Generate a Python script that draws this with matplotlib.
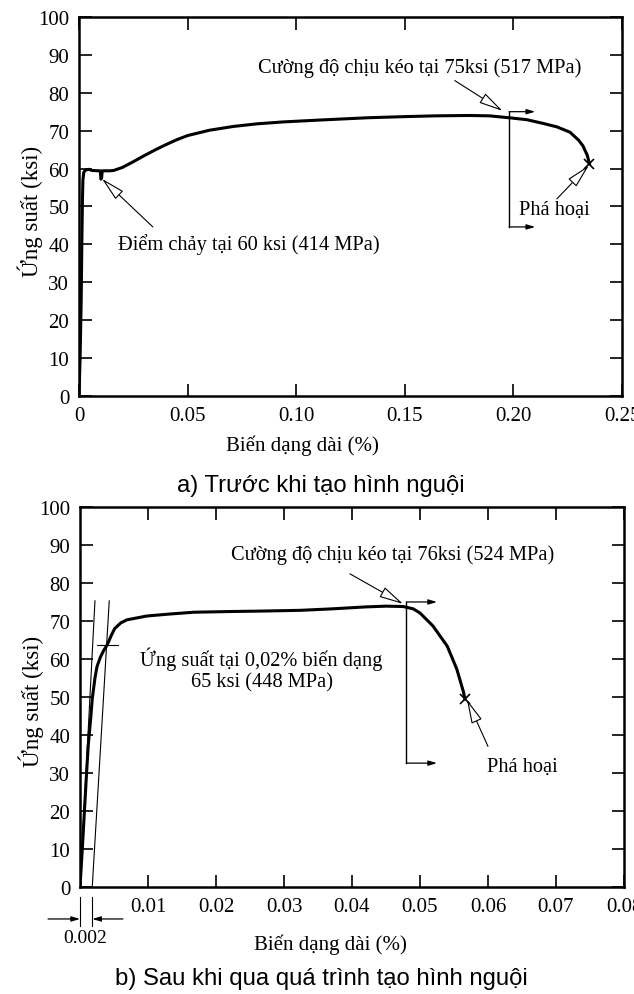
import matplotlib
matplotlib.use("Agg")
import matplotlib.pyplot as plt

plt.rcParams['font.family'] = ['Liberation Serif', 'DejaVu Serif']

# a) before cold forming
strain_a = [0, 0.0005, 0.0010, 0.0013, 0.0016, 0.0018, 0.0022, 0.0030, 0.0045, 0.0060,
            0.0090, 0.0098, 0.0101, 0.0104, 0.0107, 0.0140, 0.0160, 0.0200, 0.0250,
            0.0300, 0.0350, 0.0400, 0.0450, 0.0500, 0.0600, 0.0710, 0.0820, 0.0940,
            0.1110, 0.1330, 0.1500, 0.1640, 0.1800, 0.1890, 0.1980, 0.2060, 0.2130,
            0.2200, 0.2260, 0.2300, 0.2320, 0.2340, 0.2350]
stress_a = [0, 10, 25, 40, 52, 57, 59, 59.6, 59.8, 59.5,
            59.4, 59.4, 57.2, 57.5, 59.4, 59.4, 59.5, 60.3, 61.8,
            63.4, 64.9, 66.3, 67.6, 68.7, 70.1, 71.1, 71.8, 72.3,
            72.8, 73.4, 73.7, 73.9, 74.0, 73.9, 73.4, 72.9, 72.0,
            71.0, 69.6, 67.5, 66.0, 63.5, 61.3]

# b) after cold forming
strain_b = [0, 0.0004, 0.0009, 0.0012, 0.0016, 0.0018, 0.0022, 0.0025, 0.0030, 0.0035,
            0.0040, 0.0046, 0.0051, 0.0060, 0.0069, 0.0098, 0.0130, 0.0167, 0.0225,
            0.0265, 0.0324, 0.0372, 0.0420, 0.0450, 0.0475, 0.0490, 0.0500, 0.0519,
            0.0540, 0.0554, 0.0564, 0.0566]
stress_b = [0, 12, 28, 37, 45, 49.5, 55.0, 58.0, 60.5, 62.3,
            63.7, 66.2, 68.0, 69.5, 70.3, 71.3, 71.8, 72.3, 72.5,
            72.6, 72.8, 73.2, 73.7, 73.9, 73.8, 73.2, 72.1, 68.7,
            63.4, 57.4, 51.3, 49.5]

# 0.2% offset construction lines
elastic_x = [0, 0.0022]
offset_x = [0.0018, 0.0043]
construct_y = [0, 75.3]
offset_stress = 63.7

yticks = list(range(0, 101, 10))
xticks_a = [0, 0.05, 0.10, 0.15, 0.20, 0.25]
xlabels_a = ['0', '0.05', '0.10', '0.15', '0.20', '0.25']
xticks_b = [0.01, 0.02, 0.03, 0.04, 0.05, 0.06, 0.07, 0.08]
xlabels_b = ['0.01', '0.02', '0.03', '0.04', '0.05', '0.06', '0.07', '0.08']

fig = plt.figure(figsize=(6.34, 9.95), dpi=100)
ax1 = fig.add_axes([0.1246, 0.601, 0.8565, 0.381])
ax2 = fig.add_axes([0.1262, 0.1075, 0.8580, 0.382])

hollow = dict(arrowstyle='-|>,head_length=1.5,head_width=0.35', fc='white', ec='black',
              lw=0.8, shrinkA=0, shrinkB=0, mutation_scale=10)
small = dict(arrowstyle='-|>,head_length=0.5,head_width=0.15', fc='black', ec='black',
             lw=0.9, shrinkA=0, shrinkB=0, mutation_scale=10)
FS = 14.7
sans = ['Liberation Sans', 'DejaVu Sans']

def style(ax, xlim, xticks, xlabels):
    ax.set_xlim(*xlim)
    ax.set_ylim(0, 100)
    ax.set_xticks(xticks)
    ax.set_xticklabels(xlabels)
    ax.set_yticks(yticks)
    ax.tick_params(direction='in', length=9, width=1.2, top=True, right=True,
                   labelsize=15, pad=7)
    for s in ax.spines.values():
        s.set_linewidth(1.8)
    ax.text(-0.09, 0.49, 'Ứng suất (ksi)', fontsize=16.5, rotation=90,
            ha='center', va='center', transform=ax.transAxes)
    for lbl in ax.get_xticklabels() + ax.get_yticklabels():
        lbl.set_clip_on(False)

# ---- panel a ----
style(ax1, (0, 0.25), xticks_a, xlabels_a)
ax1.plot(strain_a, stress_a, color='black', lw=2.2)
ax1.plot(strain_a[-1], stress_a[-1], marker='x', color='black', ms=7, mew=1.2)
ax1.plot([0.198, 0.198], [75, 44.6], color='black', lw=1)
ax1.annotate('', xy=(0.210, 75), xytext=(0.198, 75), arrowprops=small)
ax1.annotate('', xy=(0.210, 44.6), xytext=(0.198, 44.6), arrowprops=small)
ax1.text(0.157, 86.8, 'Cường độ chịu kéo tại 75ksi (517 MPa)', fontsize=FS,
         ha='center', va='center')
ax1.annotate('', xy=(0.195, 75.2), xytext=(0.173, 83.2), arrowprops=hollow)
ax1.annotate('', xy=(0.0106, 57.3), xytext=(0.034, 44.6), arrowprops=hollow)
ax1.text(0.018, 40.2, 'Điểm chảy tại 60 ksi (414 MPa)', fontsize=FS, va='center')
ax1.annotate('', xy=(0.2347, 60.8), xytext=(0.220, 52), arrowprops=hollow)
ax1.text(0.2187, 49.3, 'Phá hoại', fontsize=FS, ha='center', va='center')
ax1.text(0.1027, -12.9, 'Biến dạng dài (%)', fontsize=15, ha='center', va='center')
ax1.text(0.1115, -23.5, 'a) Trước khi tạo hình nguội', fontsize=17.2, ha='center',
         va='center', family=sans)

# ---- panel b ----
style(ax2, (0, 0.08), xticks_b, xlabels_b)
ax2.plot(strain_b, stress_b, color='black', lw=2.2)
ax2.plot(strain_b[-1], stress_b[-1], marker='x', color='black', ms=7, mew=1.2)
ax2.plot(elastic_x, construct_y, color='black', lw=0.8)
ax2.plot(offset_x, construct_y, color='black', lw=0.8)
ax2.plot([0.0025, 0.0056], [offset_stress, offset_stress], color='black', lw=0.8)
ax2.text(0.0267, 57.4, 'Ứng suất tại 0,02% biến dạng\n65 ksi (448 MPa)', fontsize=FS,
         ha='center', va='center', linespacing=1.2)
ax2.plot([0.048, 0.048], [75, 32.6], color='black', lw=1)
ax2.annotate('', xy=(0.0525, 75), xytext=(0.048, 75), arrowprops=small)
ax2.annotate('', xy=(0.0525, 32.6), xytext=(0.048, 32.6), arrowprops=small)
ax2.text(0.046, 87.6, 'Cường độ chịu kéo tại 76ksi (524 MPa)', fontsize=FS,
         ha='center', va='center')
ax2.annotate('', xy=(0.0475, 74.5), xytext=(0.0397, 82.4), arrowprops=hollow)
ax2.annotate('', xy=(0.0569, 49.3), xytext=(0.0600, 37), arrowprops=hollow)
ax2.text(0.065, 31.8, 'Phá hoại', fontsize=FS, ha='center', va='center')

# 0.002 offset dimension under the axis
tr = ax2.get_xaxis_transform()
for xv in (0, 0.0018):
    ax2.plot([xv, xv], [-0.026, -0.103], color='black', lw=0.8, transform=tr, clip_on=False)
ax2.annotate('', xy=(0, -0.084), xytext=(-0.0047, -0.084), xycoords=tr, textcoords=tr,
             arrowprops=small, annotation_clip=False)
ax2.annotate('', xy=(0.0018, -0.084), xytext=(0.0063, -0.084), xycoords=tr, textcoords=tr,
             arrowprops=small, annotation_clip=False)
ax2.text(0.0007, -0.132, '0.002', fontsize=14, ha='center', va='center', transform=tr)
ax2.text(0.0368, -0.15, 'Biến dạng dài (%)', fontsize=15, ha='center', va='center',
         transform=tr)
ax2.text(0.0355, -0.24, 'b) Sau khi qua quá trình tạo hình nguội', fontsize=17.2,
         ha='center', va='center', transform=tr, family=sans)

fig.savefig('out.png', dpi=100)
